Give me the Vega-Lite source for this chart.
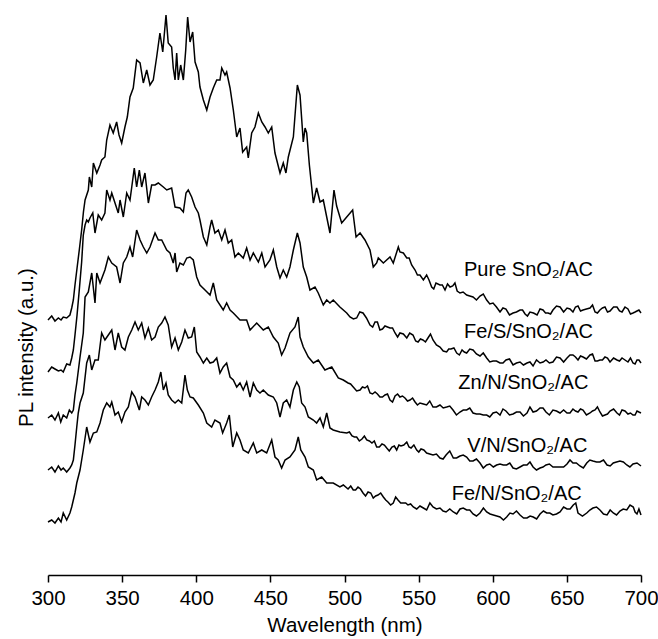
{
"$schema": "https://vega.github.io/schema/vega-lite/v6.json",
"width": 593, "height": 575,
"autosize": {"type": "none"},
"padding": {"left": 48, "top": 0, "right": 17, "bottom": 64},
"background": "white",
"config": {"view": {"stroke": null}, "font": "Liberation Sans"},
"layer": [
{
"data": {"values": [
{"s":"Pure","w":300,"i":255},{"s":"Pure","w":302.5,"i":259},{"s":"Pure","w":304.7,"i":254},{"s":"Pure","w":307,"i":257},{"s":"Pure","w":308.8,"i":255},{"s":"Pure","w":310.3,"i":258},{"s":"Pure","w":312.6,"i":257},{"s":"Pure","w":314.8,"i":260},{"s":"Pure","w":316,"i":267},{"s":"Pure","w":317.1,"i":275},{"s":"Pure","w":318.2,"i":290},{"s":"Pure","w":319.6,"i":307},{"s":"Pure","w":321.1,"i":325},{"s":"Pure","w":322.7,"i":345},{"s":"Pure","w":323.9,"i":363},{"s":"Pure","w":325,"i":375},{"s":"Pure","w":327.2,"i":385},{"s":"Pure","w":327.9,"i":398},{"s":"Pure","w":329.5,"i":388},{"s":"Pure","w":330.6,"i":412},{"s":"Pure","w":332.9,"i":402},{"s":"Pure","w":335.1,"i":410},{"s":"Pure","w":336.2,"i":415},{"s":"Pure","w":338.4,"i":418},{"s":"Pure","w":339.6,"i":435},{"s":"Pure","w":341.8,"i":450},{"s":"Pure","w":344,"i":442},{"s":"Pure","w":346.3,"i":453},{"s":"Pure","w":347.9,"i":440},{"s":"Pure","w":349.7,"i":432},{"s":"Pure","w":351.9,"i":448},{"s":"Pure","w":353.5,"i":458},{"s":"Pure","w":355.3,"i":478},{"s":"Pure","w":357.5,"i":487},{"s":"Pure","w":359.8,"i":515},{"s":"Pure","w":362.1,"i":512},{"s":"Pure","w":364.3,"i":492},{"s":"Pure","w":366.6,"i":505},{"s":"Pure","w":368.8,"i":490},{"s":"Pure","w":371,"i":495},{"s":"Pure","w":373.3,"i":518},{"s":"Pure","w":375.5,"i":542},{"s":"Pure","w":377.4,"i":523},{"s":"Pure","w":379.6,"i":560},{"s":"Pure","w":381.1,"i":532},{"s":"Pure","w":383.4,"i":528},{"s":"Pure","w":384.5,"i":507},{"s":"Pure","w":385.7,"i":495},{"s":"Pure","w":386.8,"i":522},{"s":"Pure","w":387.9,"i":495},{"s":"Pure","w":389.5,"i":510},{"s":"Pure","w":391.3,"i":495},{"s":"Pure","w":392.9,"i":525},{"s":"Pure","w":394.2,"i":558},{"s":"Pure","w":395.8,"i":533},{"s":"Pure","w":397.6,"i":543},{"s":"Pure","w":399.2,"i":513},{"s":"Pure","w":401.4,"i":503},{"s":"Pure","w":402.5,"i":488},{"s":"Pure","w":404.8,"i":475},{"s":"Pure","w":407.1,"i":465},{"s":"Pure","w":409.3,"i":478},{"s":"Pure","w":411.5,"i":487},{"s":"Pure","w":413.8,"i":495},{"s":"Pure","w":416,"i":495},{"s":"Pure","w":417.2,"i":507},{"s":"Pure","w":419.4,"i":500},{"s":"Pure","w":420.5,"i":503},{"s":"Pure","w":422.8,"i":487},{"s":"Pure","w":425,"i":465},{"s":"Pure","w":427.3,"i":438},{"s":"Pure","w":429.5,"i":447},{"s":"Pure","w":431.3,"i":423},{"s":"Pure","w":434,"i":428},{"s":"Pure","w":435.1,"i":417},{"s":"Pure","w":437.4,"i":442},{"s":"Pure","w":439.6,"i":448},{"s":"Pure","w":441.9,"i":462},{"s":"Pure","w":444.2,"i":453},{"s":"Pure","w":446.4,"i":448},{"s":"Pure","w":448.6,"i":442},{"s":"Pure","w":450.9,"i":448},{"s":"Pure","w":453.1,"i":422},{"s":"Pure","w":456.5,"i":402},{"s":"Pure","w":458.7,"i":412},{"s":"Pure","w":460.5,"i":402},{"s":"Pure","w":462.1,"i":418},{"s":"Pure","w":465.5,"i":438},{"s":"Pure","w":468.2,"i":490},{"s":"Pure","w":470,"i":480},{"s":"Pure","w":472.2,"i":433},{"s":"Pure","w":473.4,"i":447},{"s":"Pure","w":474.5,"i":442},{"s":"Pure","w":476.3,"i":410},{"s":"Pure","w":479,"i":372},{"s":"Pure","w":481.2,"i":387},{"s":"Pure","w":483.5,"i":373},{"s":"Pure","w":485.7,"i":375},{"s":"Pure","w":488,"i":358},{"s":"Pure","w":490.2,"i":342},{"s":"Pure","w":492.9,"i":385},{"s":"Pure","w":494.7,"i":369},{"s":"Pure","w":498.1,"i":352},{"s":"Pure","w":501.5,"i":358},{"s":"Pure","w":505.5,"i":365},{"s":"Pure","w":507.8,"i":338},{"s":"Pure","w":510.5,"i":342},{"s":"Pure","w":513.8,"i":335},{"s":"Pure","w":517.2,"i":325},{"s":"Pure","w":519.4,"i":308},{"s":"Pure","w":521.7,"i":312},{"s":"Pure","w":522.8,"i":317},{"s":"Pure","w":526.2,"i":312},{"s":"Pure","w":530.7,"i":318},{"s":"Pure","w":532.9,"i":312},{"s":"Pure","w":536.3,"i":328},{"s":"Pure","w":537.4,"i":323},{"s":"Pure","w":539.7,"i":322},{"s":"Pure","w":542,"i":317},{"s":"Pure","w":545.3,"i":310},{"s":"Pure","w":547.6,"i":305},{"s":"Pure","w":550.9,"i":300},{"s":"Pure","w":553.2,"i":295},{"s":"Pure","w":555.4,"i":300},{"s":"Pure","w":558.8,"i":288},{"s":"Pure","w":561.7,"i":292},{"s":"Pure","w":564.4,"i":290},{"s":"Pure","w":567.8,"i":285},{"s":"Pure","w":571.2,"i":288},{"s":"Pure","w":574.5,"i":292},{"s":"Pure","w":577.9,"i":282},{"s":"Pure","w":582.4,"i":280},{"s":"Pure","w":586.7,"i":278},{"s":"Pure","w":591.4,"i":279},{"s":"Pure","w":595.9,"i":275},{"s":"Pure","w":600.2,"i":272},{"s":"Pure","w":604.9,"i":263},{"s":"Pure","w":608.9,"i":266},{"s":"Pure","w":613.7,"i":262},{"s":"Pure","w":618.4,"i":265},{"s":"Pure","w":621.8,"i":261},{"s":"Pure","w":625.1,"i":263},{"s":"Pure","w":629.9,"i":260},{"s":"Pure","w":633.9,"i":265},{"s":"Pure","w":637.3,"i":262},{"s":"Pure","w":640.6,"i":265},{"s":"Pure","w":645.4,"i":268},{"s":"Pure","w":650.1,"i":267},{"s":"Pure","w":654.1,"i":263},{"s":"Pure","w":657.5,"i":269},{"s":"Pure","w":660.9,"i":265},{"s":"Pure","w":665.6,"i":267},{"s":"Pure","w":669,"i":263},{"s":"Pure","w":672.3,"i":265},{"s":"Pure","w":675.7,"i":268},{"s":"Pure","w":679.1,"i":264},{"s":"Pure","w":683.8,"i":268},{"s":"Pure","w":687.2,"i":263},{"s":"Pure","w":691.2,"i":266},{"s":"Pure","w":694.6,"i":262},{"s":"Pure","w":697.3,"i":264},{"s":"Pure","w":700,"i":262},
{"s":"Pure","w":543.6,"i":317},{"s":"Pure","w":549.2,"i":300},{"s":"Pure","w":557,"i":295},{"s":"Pure","w":560.2,"i":286},{"s":"Pure","w":566,"i":290},{"s":"Pure","w":569.5,"i":291},{"s":"Pure","w":573,"i":289},{"s":"Pure","w":576,"i":284},{"s":"Pure","w":580,"i":283},{"s":"Pure","w":584.5,"i":279},{"s":"Pure","w":589,"i":275},{"s":"Pure","w":593.6,"i":281},{"s":"Pure","w":598,"i":271},{"s":"Pure","w":602.5,"i":268},{"s":"Pure","w":606.9,"i":267},{"s":"Pure","w":611.3,"i":260},{"s":"Pure","w":616,"i":263},{"s":"Pure","w":620.1,"i":265},{"s":"Pure","w":623.4,"i":259},{"s":"Pure","w":627.5,"i":262},{"s":"Pure","w":631.9,"i":266},{"s":"Pure","w":635.6,"i":262},{"s":"Pure","w":639,"i":261},{"s":"Pure","w":643,"i":269},{"s":"Pure","w":647.8,"i":263},{"s":"Pure","w":652.1,"i":266},{"s":"Pure","w":655.8,"i":268},{"s":"Pure","w":659.2,"i":264},{"s":"Pure","w":663.2,"i":266},{"s":"Pure","w":667.3,"i":270},{"s":"Pure","w":670.6,"i":262},{"s":"Pure","w":674,"i":267},{"s":"Pure","w":677.4,"i":263},{"s":"Pure","w":681.5,"i":268},{"s":"Pure","w":685.5,"i":264},{"s":"Pure","w":689.2,"i":268},{"s":"Pure","w":692.9,"i":261},{"s":"Pure","w":696,"i":263},{"s":"Pure","w":698.6,"i":265},
{"s":"FeS","w":300,"i":203},{"s":"FeS","w":302.5,"i":208},{"s":"FeS","w":304.7,"i":206},{"s":"FeS","w":307,"i":204},{"s":"FeS","w":308.8,"i":205},{"s":"FeS","w":310.3,"i":203},{"s":"FeS","w":312.6,"i":211},{"s":"FeS","w":314.8,"i":210},{"s":"FeS","w":316,"i":217},{"s":"FeS","w":317.1,"i":225},{"s":"FeS","w":318.2,"i":240},{"s":"FeS","w":319.6,"i":260},{"s":"FeS","w":321.1,"i":285},{"s":"FeS","w":322.7,"i":313},{"s":"FeS","w":323.8,"i":340},{"s":"FeS","w":325,"i":350},{"s":"FeS","w":326.1,"i":355},{"s":"FeS","w":327.2,"i":353},{"s":"FeS","w":328.3,"i":357},{"s":"FeS","w":330.2,"i":362},{"s":"FeS","w":331.7,"i":342},{"s":"FeS","w":333.9,"i":360},{"s":"FeS","w":336.2,"i":355},{"s":"FeS","w":338.4,"i":362},{"s":"FeS","w":339.6,"i":385},{"s":"FeS","w":341.8,"i":375},{"s":"FeS","w":343,"i":382},{"s":"FeS","w":345.2,"i":372},{"s":"FeS","w":347.4,"i":362},{"s":"FeS","w":348.6,"i":375},{"s":"FeS","w":350.8,"i":358},{"s":"FeS","w":353.1,"i":382},{"s":"FeS","w":355.3,"i":375},{"s":"FeS","w":356.5,"i":388},{"s":"FeS","w":358.2,"i":407},{"s":"FeS","w":359.8,"i":388},{"s":"FeS","w":361.6,"i":405},{"s":"FeS","w":363.2,"i":388},{"s":"FeS","w":365.4,"i":402},{"s":"FeS","w":367.7,"i":372},{"s":"FeS","w":369.9,"i":390},{"s":"FeS","w":372.2,"i":390},{"s":"FeS","w":374.4,"i":392},{"s":"FeS","w":377.8,"i":388},{"s":"FeS","w":380.1,"i":385},{"s":"FeS","w":383.4,"i":387},{"s":"FeS","w":385.7,"i":368},{"s":"FeS","w":389,"i":367},{"s":"FeS","w":391.3,"i":363},{"s":"FeS","w":393.1,"i":382},{"s":"FeS","w":394.6,"i":385},{"s":"FeS","w":396.9,"i":378},{"s":"FeS","w":399.2,"i":368},{"s":"FeS","w":401.4,"i":362},{"s":"FeS","w":402.5,"i":355},{"s":"FeS","w":404.8,"i":338},{"s":"FeS","w":407.1,"i":330},{"s":"FeS","w":409.3,"i":348},{"s":"FeS","w":410.4,"i":355},{"s":"FeS","w":412.6,"i":342},{"s":"FeS","w":414.9,"i":345},{"s":"FeS","w":417.2,"i":335},{"s":"FeS","w":419.4,"i":345},{"s":"FeS","w":421.6,"i":332},{"s":"FeS","w":423.9,"i":335},{"s":"FeS","w":426.1,"i":318},{"s":"FeS","w":428.4,"i":322},{"s":"FeS","w":431.7,"i":317},{"s":"FeS","w":434,"i":327},{"s":"FeS","w":436.3,"i":315},{"s":"FeS","w":438.5,"i":322},{"s":"FeS","w":441.9,"i":313},{"s":"FeS","w":444.2,"i":322},{"s":"FeS","w":446.4,"i":308},{"s":"FeS","w":449.7,"i":315},{"s":"FeS","w":452,"i":325},{"s":"FeS","w":454.3,"i":308},{"s":"FeS","w":456.5,"i":297},{"s":"FeS","w":458.7,"i":305},{"s":"FeS","w":461,"i":298},{"s":"FeS","w":463.2,"i":308},{"s":"FeS","w":465.5,"i":325},{"s":"FeS","w":468.2,"i":342},{"s":"FeS","w":470,"i":332},{"s":"FeS","w":472.2,"i":308},{"s":"FeS","w":474.5,"i":298},{"s":"FeS","w":476.7,"i":285},{"s":"FeS","w":480.1,"i":288},{"s":"FeS","w":482.3,"i":282},{"s":"FeS","w":485.7,"i":270},{"s":"FeS","w":488,"i":275},{"s":"FeS","w":490.2,"i":272},{"s":"FeS","w":492.4,"i":275},{"s":"FeS","w":496.9,"i":268},{"s":"FeS","w":501.5,"i":262},{"s":"FeS","w":503.7,"i":258},{"s":"FeS","w":508.2,"i":257},{"s":"FeS","w":512.5,"i":262},{"s":"FeS","w":517.2,"i":250},{"s":"FeS","w":520.6,"i":253},{"s":"FeS","w":523.9,"i":245},{"s":"FeS","w":527.3,"i":249},{"s":"FeS","w":530.7,"i":247},{"s":"FeS","w":534.1,"i":242},{"s":"FeS","w":537.4,"i":242},{"s":"FeS","w":542,"i":237},{"s":"FeS","w":546.2,"i":240},{"s":"FeS","w":549.6,"i":233},{"s":"FeS","w":552.9,"i":235},{"s":"FeS","w":556.3,"i":237},{"s":"FeS","w":559.7,"i":235},{"s":"FeS","w":564.4,"i":228},{"s":"FeS","w":568.9,"i":223},{"s":"FeS","w":571.8,"i":226},{"s":"FeS","w":575.7,"i":222},{"s":"FeS","w":579.3,"i":225},{"s":"FeS","w":582.4,"i":222},{"s":"FeS","w":586.7,"i":225},{"s":"FeS","w":591.4,"i":219},{"s":"FeS","w":595.9,"i":217},{"s":"FeS","w":600.2,"i":214},{"s":"FeS","w":604.9,"i":212},{"s":"FeS","w":608.9,"i":215},{"s":"FeS","w":613.7,"i":210},{"s":"FeS","w":618.4,"i":213},{"s":"FeS","w":623.1,"i":212},{"s":"FeS","w":627.2,"i":209},{"s":"FeS","w":631.9,"i":212},{"s":"FeS","w":635.9,"i":215},{"s":"FeS","w":640.6,"i":213},{"s":"FeS","w":645.4,"i":217},{"s":"FeS","w":650.1,"i":217},{"s":"FeS","w":654.1,"i":220},{"s":"FeS","w":657.5,"i":215},{"s":"FeS","w":660.9,"i":218},{"s":"FeS","w":665.6,"i":220},{"s":"FeS","w":669,"i":214},{"s":"FeS","w":672.3,"i":215},{"s":"FeS","w":675.7,"i":218},{"s":"FeS","w":679.1,"i":213},{"s":"FeS","w":683.8,"i":215},{"s":"FeS","w":687.2,"i":217},{"s":"FeS","w":691.2,"i":213},{"s":"FeS","w":694.6,"i":212},{"s":"FeS","w":697.3,"i":215},{"s":"FeS","w":700,"i":212},
{"s":"FeS","w":506,"i":256},{"s":"FeS","w":510.3,"i":263},{"s":"FeS","w":514.8,"i":257},{"s":"FeS","w":519,"i":248},{"s":"FeS","w":522.2,"i":253},{"s":"FeS","w":525.6,"i":246},{"s":"FeS","w":529,"i":248},{"s":"FeS","w":532.4,"i":247},{"s":"FeS","w":535.8,"i":238},{"s":"FeS","w":539.7,"i":241},{"s":"FeS","w":544,"i":242},{"s":"FeS","w":548,"i":234},{"s":"FeS","w":551.2,"i":236},{"s":"FeS","w":554.6,"i":233},{"s":"FeS","w":558,"i":241},{"s":"FeS","w":562,"i":230},{"s":"FeS","w":566.6,"i":224},{"s":"FeS","w":570.3,"i":226},{"s":"FeS","w":573.8,"i":227},{"s":"FeS","w":577.5,"i":220},{"s":"FeS","w":580.8,"i":223},{"s":"FeS","w":584.5,"i":226},{"s":"FeS","w":589,"i":221},{"s":"FeS","w":593.6,"i":222},{"s":"FeS","w":598,"i":213},{"s":"FeS","w":602.5,"i":214},{"s":"FeS","w":606.9,"i":212},{"s":"FeS","w":611.3,"i":216},{"s":"FeS","w":616,"i":212},{"s":"FeS","w":620.7,"i":210},{"s":"FeS","w":625.1,"i":213},{"s":"FeS","w":629.5,"i":215},{"s":"FeS","w":634,"i":213},{"s":"FeS","w":638.2,"i":212},{"s":"FeS","w":643,"i":218},{"s":"FeS","w":647.8,"i":213},{"s":"FeS","w":652.1,"i":220},{"s":"FeS","w":655.8,"i":218},{"s":"FeS","w":659.2,"i":219},{"s":"FeS","w":663.2,"i":216},{"s":"FeS","w":667.3,"i":221},{"s":"FeS","w":670.6,"i":214},{"s":"FeS","w":674,"i":215},{"s":"FeS","w":677.4,"i":217},{"s":"FeS","w":681.5,"i":217},{"s":"FeS","w":685.5,"i":214},{"s":"FeS","w":689.2,"i":215},{"s":"FeS","w":692.9,"i":217},{"s":"FeS","w":696,"i":211},{"s":"FeS","w":698.6,"i":215},
{"s":"ZnN","w":300,"i":157},{"s":"ZnN","w":302.5,"i":160},{"s":"ZnN","w":304.7,"i":155},{"s":"ZnN","w":307,"i":162},{"s":"ZnN","w":308.6,"i":153},{"s":"ZnN","w":310.3,"i":160},{"s":"ZnN","w":312.6,"i":157},{"s":"ZnN","w":314.4,"i":165},{"s":"ZnN","w":316,"i":162},{"s":"ZnN","w":317.1,"i":165},{"s":"ZnN","w":318.2,"i":180},{"s":"ZnN","w":319.4,"i":192},{"s":"ZnN","w":321.6,"i":218},{"s":"ZnN","w":323.8,"i":242},{"s":"ZnN","w":325,"i":278},{"s":"ZnN","w":327.2,"i":283},{"s":"ZnN","w":329.5,"i":302},{"s":"ZnN","w":331.7,"i":272},{"s":"ZnN","w":332.9,"i":302},{"s":"ZnN","w":335.1,"i":292},{"s":"ZnN","w":338.4,"i":305},{"s":"ZnN","w":340.7,"i":318},{"s":"ZnN","w":343,"i":312},{"s":"ZnN","w":346.3,"i":308},{"s":"ZnN","w":348.6,"i":292},{"s":"ZnN","w":350.8,"i":312},{"s":"ZnN","w":353.1,"i":318},{"s":"ZnN","w":355.3,"i":328},{"s":"ZnN","w":357.1,"i":318},{"s":"ZnN","w":359.8,"i":345},{"s":"ZnN","w":362.1,"i":335},{"s":"ZnN","w":364.3,"i":328},{"s":"ZnN","w":366.6,"i":322},{"s":"ZnN","w":368.8,"i":328},{"s":"ZnN","w":372.2,"i":342},{"s":"ZnN","w":374.4,"i":335},{"s":"ZnN","w":376.7,"i":335},{"s":"ZnN","w":380.1,"i":325},{"s":"ZnN","w":382.3,"i":322},{"s":"ZnN","w":384.5,"i":312},{"s":"ZnN","w":385.7,"i":322},{"s":"ZnN","w":386.8,"i":303},{"s":"ZnN","w":389,"i":312},{"s":"ZnN","w":391.3,"i":310},{"s":"ZnN","w":393.6,"i":317},{"s":"ZnN","w":395.8,"i":318},{"s":"ZnN","w":398,"i":315},{"s":"ZnN","w":400.3,"i":298},{"s":"ZnN","w":402.5,"i":290},{"s":"ZnN","w":405.9,"i":285},{"s":"ZnN","w":409.3,"i":280},{"s":"ZnN","w":411.5,"i":292},{"s":"ZnN","w":413.8,"i":275},{"s":"ZnN","w":418.2,"i":265},{"s":"ZnN","w":420.5,"i":272},{"s":"ZnN","w":422.8,"i":265},{"s":"ZnN","w":425,"i":262},{"s":"ZnN","w":429.5,"i":255},{"s":"ZnN","w":434,"i":255},{"s":"ZnN","w":436.3,"i":245},{"s":"ZnN","w":440.8,"i":252},{"s":"ZnN","w":445.2,"i":245},{"s":"ZnN","w":448.6,"i":248},{"s":"ZnN","w":452,"i":238},{"s":"ZnN","w":455.3,"i":232},{"s":"ZnN","w":457.6,"i":220},{"s":"ZnN","w":459.9,"i":227},{"s":"ZnN","w":463.2,"i":242},{"s":"ZnN","w":466.6,"i":248},{"s":"ZnN","w":468.8,"i":258},{"s":"ZnN","w":470,"i":238},{"s":"ZnN","w":472.2,"i":228},{"s":"ZnN","w":475.6,"i":218},{"s":"ZnN","w":479,"i":212},{"s":"ZnN","w":482.3,"i":215},{"s":"ZnN","w":486.8,"i":205},{"s":"ZnN","w":491.4,"i":208},{"s":"ZnN","w":495.8,"i":197},{"s":"ZnN","w":499.2,"i":195},{"s":"ZnN","w":502.4,"i":192},{"s":"ZnN","w":505.9,"i":188},{"s":"ZnN","w":510.5,"i":185},{"s":"ZnN","w":513.8,"i":187},{"s":"ZnN","w":517.2,"i":182},{"s":"ZnN","w":520.6,"i":183},{"s":"ZnN","w":523.9,"i":178},{"s":"ZnN","w":527.3,"i":180},{"s":"ZnN","w":530.7,"i":175},{"s":"ZnN","w":534.1,"i":179},{"s":"ZnN","w":537.4,"i":178},{"s":"ZnN","w":540.8,"i":177},{"s":"ZnN","w":544.2,"i":175},{"s":"ZnN","w":547.6,"i":173},{"s":"ZnN","w":550.9,"i":172},{"s":"ZnN","w":555.4,"i":170},{"s":"ZnN","w":559.7,"i":168},{"s":"ZnN","w":564.4,"i":170},{"s":"ZnN","w":568.9,"i":168},{"s":"ZnN","w":573.2,"i":165},{"s":"ZnN","w":577.9,"i":163},{"s":"ZnN","w":582.4,"i":165},{"s":"ZnN","w":586.7,"i":162},{"s":"ZnN","w":591.4,"i":161},{"s":"ZnN","w":595.9,"i":160},{"s":"ZnN","w":600.2,"i":162},{"s":"ZnN","w":604.9,"i":160},{"s":"ZnN","w":608.9,"i":164},{"s":"ZnN","w":613.7,"i":161},{"s":"ZnN","w":618.4,"i":163},{"s":"ZnN","w":623.1,"i":162},{"s":"ZnN","w":627.2,"i":163},{"s":"ZnN","w":631.9,"i":167},{"s":"ZnN","w":635.9,"i":163},{"s":"ZnN","w":640.6,"i":165},{"s":"ZnN","w":645.4,"i":162},{"s":"ZnN","w":650.1,"i":162},{"s":"ZnN","w":654.1,"i":166},{"s":"ZnN","w":657.5,"i":163},{"s":"ZnN","w":660.9,"i":165},{"s":"ZnN","w":665.6,"i":162},{"s":"ZnN","w":669,"i":165},{"s":"ZnN","w":672.3,"i":163},{"s":"ZnN","w":675.7,"i":160},{"s":"ZnN","w":679.1,"i":164},{"s":"ZnN","w":683.8,"i":162},{"s":"ZnN","w":687.2,"i":165},{"s":"ZnN","w":691.2,"i":161},{"s":"ZnN","w":694.6,"i":160},{"s":"ZnN","w":697.3,"i":164},{"s":"ZnN","w":700,"i":162},
{"s":"ZnN","w":504.1,"i":191},{"s":"ZnN","w":508.2,"i":184},{"s":"ZnN","w":512.1,"i":188},{"s":"ZnN","w":515.5,"i":189},{"s":"ZnN","w":518.9,"i":181},{"s":"ZnN","w":522.2,"i":181},{"s":"ZnN","w":525.6,"i":178},{"s":"ZnN","w":529,"i":181},{"s":"ZnN","w":532.4,"i":173},{"s":"ZnN","w":535.8,"i":181},{"s":"ZnN","w":539.1,"i":179},{"s":"ZnN","w":542.5,"i":174},{"s":"ZnN","w":545.9,"i":177},{"s":"ZnN","w":549.2,"i":170},{"s":"ZnN","w":553.2,"i":171},{"s":"ZnN","w":557.5,"i":174},{"s":"ZnN","w":562,"i":168},{"s":"ZnN","w":566.6,"i":167},{"s":"ZnN","w":571,"i":169},{"s":"ZnN","w":575.5,"i":160},{"s":"ZnN","w":580.1,"i":165},{"s":"ZnN","w":584.5,"i":167},{"s":"ZnN","w":589,"i":161},{"s":"ZnN","w":593.6,"i":160},{"s":"ZnN","w":598,"i":158},{"s":"ZnN","w":602.5,"i":163},{"s":"ZnN","w":606.9,"i":166},{"s":"ZnN","w":611.3,"i":160},{"s":"ZnN","w":616,"i":163},{"s":"ZnN","w":620.7,"i":159},{"s":"ZnN","w":625.1,"i":168},{"s":"ZnN","w":629.5,"i":164},{"s":"ZnN","w":633.9,"i":167},{"s":"ZnN","w":638.2,"i":160},{"s":"ZnN","w":643,"i":164},{"s":"ZnN","w":647.8,"i":165},{"s":"ZnN","w":652.1,"i":162},{"s":"ZnN","w":655.8,"i":164},{"s":"ZnN","w":659.2,"i":166},{"s":"ZnN","w":663.2,"i":160},{"s":"ZnN","w":667.3,"i":164},{"s":"ZnN","w":670.6,"i":168},{"s":"ZnN","w":674,"i":159},{"s":"ZnN","w":677.4,"i":161},{"s":"ZnN","w":681.5,"i":166},{"s":"ZnN","w":685.5,"i":160},{"s":"ZnN","w":689.2,"i":164},{"s":"ZnN","w":692.9,"i":162},{"s":"ZnN","w":696,"i":160},{"s":"ZnN","w":698.6,"i":163},
{"s":"VN","w":300,"i":105},{"s":"VN","w":302.5,"i":108},{"s":"VN","w":304.7,"i":103},{"s":"VN","w":307,"i":109},{"s":"VN","w":308.8,"i":105},{"s":"VN","w":310.3,"i":107},{"s":"VN","w":312.6,"i":103},{"s":"VN","w":314.8,"i":107},{"s":"VN","w":316,"i":110},{"s":"VN","w":317.1,"i":115},{"s":"VN","w":318.2,"i":130},{"s":"VN","w":319.4,"i":148},{"s":"VN","w":320.4,"i":162},{"s":"VN","w":321.6,"i":172},{"s":"VN","w":323.8,"i":182},{"s":"VN","w":326.1,"i":212},{"s":"VN","w":327.9,"i":220},{"s":"VN","w":329.5,"i":205},{"s":"VN","w":331.7,"i":215},{"s":"VN","w":333.9,"i":215},{"s":"VN","w":336.2,"i":242},{"s":"VN","w":338.4,"i":235},{"s":"VN","w":340.7,"i":240},{"s":"VN","w":343,"i":245},{"s":"VN","w":345.2,"i":225},{"s":"VN","w":347.4,"i":242},{"s":"VN","w":349.7,"i":228},{"s":"VN","w":351.9,"i":225},{"s":"VN","w":354.2,"i":238},{"s":"VN","w":356.5,"i":245},{"s":"VN","w":358.7,"i":253},{"s":"VN","w":360.9,"i":245},{"s":"VN","w":363.2,"i":252},{"s":"VN","w":365.4,"i":237},{"s":"VN","w":367.7,"i":247},{"s":"VN","w":369.9,"i":235},{"s":"VN","w":372.2,"i":238},{"s":"VN","w":374.4,"i":248},{"s":"VN","w":376.7,"i":252},{"s":"VN","w":378.9,"i":258},{"s":"VN","w":381.1,"i":250},{"s":"VN","w":383.4,"i":228},{"s":"VN","w":385.7,"i":237},{"s":"VN","w":387.9,"i":225},{"s":"VN","w":390.2,"i":233},{"s":"VN","w":392.4,"i":245},{"s":"VN","w":394.6,"i":237},{"s":"VN","w":396.9,"i":238},{"s":"VN","w":398.7,"i":248},{"s":"VN","w":400.3,"i":223},{"s":"VN","w":402.5,"i":218},{"s":"VN","w":404.8,"i":212},{"s":"VN","w":407.1,"i":217},{"s":"VN","w":409.3,"i":212},{"s":"VN","w":411.5,"i":213},{"s":"VN","w":413.8,"i":217},{"s":"VN","w":416,"i":202},{"s":"VN","w":418.2,"i":208},{"s":"VN","w":420.5,"i":212},{"s":"VN","w":422.8,"i":198},{"s":"VN","w":425,"i":195},{"s":"VN","w":427.3,"i":188},{"s":"VN","w":429.5,"i":192},{"s":"VN","w":431.7,"i":185},{"s":"VN","w":434,"i":193},{"s":"VN","w":436.3,"i":178},{"s":"VN","w":438.5,"i":192},{"s":"VN","w":440.8,"i":185},{"s":"VN","w":443,"i":182},{"s":"VN","w":445.2,"i":185},{"s":"VN","w":448.6,"i":180},{"s":"VN","w":452,"i":178},{"s":"VN","w":454.3,"i":172},{"s":"VN","w":456.5,"i":158},{"s":"VN","w":458.7,"i":172},{"s":"VN","w":461,"i":175},{"s":"VN","w":463.2,"i":168},{"s":"VN","w":465.5,"i":185},{"s":"VN","w":467.8,"i":193},{"s":"VN","w":469.5,"i":188},{"s":"VN","w":471.1,"i":172},{"s":"VN","w":473.4,"i":168},{"s":"VN","w":475.6,"i":158},{"s":"VN","w":479,"i":155},{"s":"VN","w":481.2,"i":152},{"s":"VN","w":483.5,"i":157},{"s":"VN","w":485.7,"i":148},{"s":"VN","w":488,"i":162},{"s":"VN","w":490.2,"i":147},{"s":"VN","w":492.4,"i":145},{"s":"VN","w":496.9,"i":143},{"s":"VN","w":501.5,"i":142},{"s":"VN","w":505.1,"i":139},{"s":"VN","w":508.2,"i":138},{"s":"VN","w":511.8,"i":136},{"s":"VN","w":515,"i":135},{"s":"VN","w":518.5,"i":132},{"s":"VN","w":521.7,"i":128},{"s":"VN","w":525.3,"i":131},{"s":"VN","w":528.5,"i":127},{"s":"VN","w":532,"i":128},{"s":"VN","w":535.2,"i":125},{"s":"VN","w":538.1,"i":129},{"s":"VN","w":542,"i":133},{"s":"VN","w":544.9,"i":127},{"s":"VN","w":548.7,"i":125},{"s":"VN","w":551.6,"i":126},{"s":"VN","w":555.4,"i":122},{"s":"VN","w":559.7,"i":120},{"s":"VN","w":564.4,"i":117},{"s":"VN","w":568.5,"i":120},{"s":"VN","w":573.4,"i":117},{"s":"VN","w":577.9,"i":119},{"s":"VN","w":582.4,"i":118},{"s":"VN","w":586.7,"i":114},{"s":"VN","w":591.4,"i":112},{"s":"VN","w":595.9,"i":110},{"s":"VN","w":600.4,"i":108},{"s":"VN","w":604.9,"i":111},{"s":"VN","w":609.4,"i":110},{"s":"VN","w":613.7,"i":107},{"s":"VN","w":618.4,"i":108},{"s":"VN","w":623.1,"i":110},{"s":"VN","w":627.2,"i":108},{"s":"VN","w":631.9,"i":107},{"s":"VN","w":635.9,"i":110},{"s":"VN","w":640.6,"i":108},{"s":"VN","w":645.4,"i":108},{"s":"VN","w":650.1,"i":111},{"s":"VN","w":654.1,"i":112},{"s":"VN","w":658.8,"i":109},{"s":"VN","w":663.4,"i":112},{"s":"VN","w":667.6,"i":114},{"s":"VN","w":672.3,"i":113},{"s":"VN","w":677.1,"i":110},{"s":"VN","w":681.3,"i":112},{"s":"VN","w":685.8,"i":114},{"s":"VN","w":690.4,"i":110},{"s":"VN","w":694.6,"i":111},{"s":"VN","w":700,"i":109},
{"s":"VN","w":503.3,"i":143},{"s":"VN","w":506.7,"i":138},{"s":"VN","w":510,"i":134},{"s":"VN","w":513.4,"i":139},{"s":"VN","w":516.8,"i":134},{"s":"VN","w":520.1,"i":134},{"s":"VN","w":523.5,"i":128},{"s":"VN","w":526.9,"i":130},{"s":"VN","w":530.2,"i":124},{"s":"VN","w":533.6,"i":129},{"s":"VN","w":536.7,"i":130},{"s":"VN","w":540,"i":130},{"s":"VN","w":543.5,"i":128},{"s":"VN","w":546.8,"i":130},{"s":"VN","w":550.1,"i":123},{"s":"VN","w":553.5,"i":125},{"s":"VN","w":557.5,"i":121},{"s":"VN","w":562,"i":121},{"s":"VN","w":566.5,"i":116},{"s":"VN","w":571,"i":124},{"s":"VN","w":575.6,"i":117},{"s":"VN","w":580.1,"i":120},{"s":"VN","w":584.5,"i":114},{"s":"VN","w":589,"i":116},{"s":"VN","w":593.6,"i":107},{"s":"VN","w":598,"i":111},{"s":"VN","w":602.6,"i":110},{"s":"VN","w":607.1,"i":110},{"s":"VN","w":611.5,"i":112},{"s":"VN","w":616,"i":106},{"s":"VN","w":620.7,"i":110},{"s":"VN","w":625.1,"i":113},{"s":"VN","w":629.5,"i":105},{"s":"VN","w":633.9,"i":108},{"s":"VN","w":638.2,"i":111},{"s":"VN","w":643,"i":108},{"s":"VN","w":647.8,"i":108},{"s":"VN","w":652.1,"i":115},{"s":"VN","w":656.4,"i":112},{"s":"VN","w":661.1,"i":107},{"s":"VN","w":665.5,"i":115},{"s":"VN","w":670,"i":113},{"s":"VN","w":674.7,"i":115},{"s":"VN","w":679.2,"i":109},{"s":"VN","w":683.5,"i":113},{"s":"VN","w":688.1,"i":113},{"s":"VN","w":692.5,"i":108},{"s":"VN","w":697.3,"i":112},
{"s":"FeN","w":300,"i":53},{"s":"FeN","w":302.5,"i":55},{"s":"FeN","w":304.7,"i":52},{"s":"FeN","w":307,"i":57},{"s":"FeN","w":308.8,"i":53},{"s":"FeN","w":310.3,"i":62},{"s":"FeN","w":312.6,"i":55},{"s":"FeN","w":314.8,"i":62},{"s":"FeN","w":316,"i":68},{"s":"FeN","w":318.2,"i":82},{"s":"FeN","w":319.4,"i":92},{"s":"FeN","w":321.6,"i":105},{"s":"FeN","w":323.8,"i":125},{"s":"FeN","w":326.1,"i":148},{"s":"FeN","w":328.3,"i":133},{"s":"FeN","w":330.6,"i":142},{"s":"FeN","w":332.9,"i":143},{"s":"FeN","w":335.1,"i":152},{"s":"FeN","w":337.3,"i":165},{"s":"FeN","w":339.6,"i":172},{"s":"FeN","w":341.8,"i":168},{"s":"FeN","w":343,"i":173},{"s":"FeN","w":345.2,"i":160},{"s":"FeN","w":347.4,"i":163},{"s":"FeN","w":349.7,"i":153},{"s":"FeN","w":351.9,"i":163},{"s":"FeN","w":354.2,"i":168},{"s":"FeN","w":356.5,"i":183},{"s":"FeN","w":358.7,"i":178},{"s":"FeN","w":361.6,"i":165},{"s":"FeN","w":363.2,"i":178},{"s":"FeN","w":365.4,"i":175},{"s":"FeN","w":367.7,"i":170},{"s":"FeN","w":369.9,"i":178},{"s":"FeN","w":372.2,"i":185},{"s":"FeN","w":374.4,"i":193},{"s":"FeN","w":376.1,"i":203},{"s":"FeN","w":377.8,"i":185},{"s":"FeN","w":379.6,"i":192},{"s":"FeN","w":381.1,"i":180},{"s":"FeN","w":383.4,"i":175},{"s":"FeN","w":385.7,"i":172},{"s":"FeN","w":387.9,"i":175},{"s":"FeN","w":390.2,"i":172},{"s":"FeN","w":392.4,"i":200},{"s":"FeN","w":394,"i":185},{"s":"FeN","w":395.8,"i":178},{"s":"FeN","w":398,"i":177},{"s":"FeN","w":401.4,"i":170},{"s":"FeN","w":404.8,"i":162},{"s":"FeN","w":407.1,"i":152},{"s":"FeN","w":410.4,"i":148},{"s":"FeN","w":412.6,"i":155},{"s":"FeN","w":416,"i":152},{"s":"FeN","w":417.8,"i":142},{"s":"FeN","w":420.5,"i":152},{"s":"FeN","w":422.3,"i":160},{"s":"FeN","w":424.6,"i":128},{"s":"FeN","w":427.3,"i":142},{"s":"FeN","w":429.5,"i":135},{"s":"FeN","w":431.7,"i":125},{"s":"FeN","w":435.1,"i":122},{"s":"FeN","w":438.5,"i":132},{"s":"FeN","w":440.8,"i":122},{"s":"FeN","w":444.2,"i":125},{"s":"FeN","w":447.5,"i":122},{"s":"FeN","w":450.9,"i":135},{"s":"FeN","w":453.1,"i":118},{"s":"FeN","w":455.3,"i":115},{"s":"FeN","w":457.6,"i":107},{"s":"FeN","w":459.9,"i":115},{"s":"FeN","w":463.2,"i":118},{"s":"FeN","w":466.6,"i":125},{"s":"FeN","w":468.8,"i":138},{"s":"FeN","w":470.5,"i":125},{"s":"FeN","w":473.4,"i":118},{"s":"FeN","w":475.6,"i":108},{"s":"FeN","w":479,"i":105},{"s":"FeN","w":481.2,"i":95},{"s":"FeN","w":484.6,"i":98},{"s":"FeN","w":488,"i":92},{"s":"FeN","w":492.4,"i":92},{"s":"FeN","w":496.9,"i":88},{"s":"FeN","w":499.2,"i":90},{"s":"FeN","w":502.4,"i":86},{"s":"FeN","w":505.9,"i":85},{"s":"FeN","w":509.1,"i":88},{"s":"FeN","w":512.5,"i":82},{"s":"FeN","w":515.9,"i":83},{"s":"FeN","w":519.4,"i":77},{"s":"FeN","w":522.6,"i":80},{"s":"FeN","w":526.2,"i":78},{"s":"FeN","w":529.3,"i":73},{"s":"FeN","w":532.9,"i":72},{"s":"FeN","w":536.1,"i":75},{"s":"FeN","w":539.7,"i":72},{"s":"FeN","w":542.8,"i":70},{"s":"FeN","w":546.4,"i":68},{"s":"FeN","w":550.9,"i":69},{"s":"FeN","w":555.4,"i":65},{"s":"FeN","w":559.7,"i":68},{"s":"FeN","w":564.4,"i":67},{"s":"FeN","w":568.5,"i":63},{"s":"FeN","w":573.4,"i":63},{"s":"FeN","w":577.9,"i":66},{"s":"FeN","w":582.4,"i":65},{"s":"FeN","w":586.7,"i":61},{"s":"FeN","w":591.4,"i":62},{"s":"FeN","w":595.9,"i":63},{"s":"FeN","w":600.4,"i":60},{"s":"FeN","w":604.9,"i":58},{"s":"FeN","w":609.4,"i":58},{"s":"FeN","w":613.7,"i":61},{"s":"FeN","w":618.4,"i":60},{"s":"FeN","w":623.1,"i":57},{"s":"FeN","w":627.3,"i":58},{"s":"FeN","w":631.9,"i":61},{"s":"FeN","w":636.4,"i":62},{"s":"FeN","w":640.6,"i":60},{"s":"FeN","w":645.4,"i":63},{"s":"FeN","w":650.1,"i":66},{"s":"FeN","w":654.3,"i":70},{"s":"FeN","w":657.5,"i":62},{"s":"FeN","w":663.4,"i":62},{"s":"FeN","w":667.6,"i":67},{"s":"FeN","w":672.3,"i":65},{"s":"FeN","w":677.1,"i":60},{"s":"FeN","w":681.3,"i":62},{"s":"FeN","w":685.8,"i":64},{"s":"FeN","w":690.4,"i":65},{"s":"FeN","w":694.8,"i":68},{"s":"FeN","w":697.3,"i":61},{"s":"FeN","w":700,"i":60},
{"s":"FeN","w":504.2,"i":89},{"s":"FeN","w":507.5,"i":85},{"s":"FeN","w":510.8,"i":86},{"s":"FeN","w":514.2,"i":79},{"s":"FeN","w":517.7,"i":82},{"s":"FeN","w":521,"i":79},{"s":"FeN","w":524.4,"i":82},{"s":"FeN","w":527.8,"i":75},{"s":"FeN","w":531.1,"i":70},{"s":"FeN","w":534.5,"i":78},{"s":"FeN","w":537.9,"i":72},{"s":"FeN","w":541.3,"i":72},{"s":"FeN","w":544.6,"i":71},{"s":"FeN","w":548.7,"i":66},{"s":"FeN","w":553.2,"i":67},{"s":"FeN","w":557.6,"i":72},{"s":"FeN","w":562,"i":66},{"s":"FeN","w":566.5,"i":64},{"s":"FeN","w":571,"i":66},{"s":"FeN","w":575.7,"i":61},{"s":"FeN","w":580.1,"i":67},{"s":"FeN","w":584.5,"i":65},{"s":"FeN","w":589,"i":59},{"s":"FeN","w":593.7,"i":67},{"s":"FeN","w":598.2,"i":61},{"s":"FeN","w":602.7,"i":59},{"s":"FeN","w":607.2,"i":55},{"s":"FeN","w":611.6,"i":62},{"s":"FeN","w":616,"i":64},{"s":"FeN","w":620.8,"i":57},{"s":"FeN","w":625.2,"i":59},{"s":"FeN","w":629.6,"i":56},{"s":"FeN","w":634.2,"i":64},{"s":"FeN","w":638.5,"i":62},{"s":"FeN","w":643,"i":61},{"s":"FeN","w":647.8,"i":68},{"s":"FeN","w":652.2,"i":66},{"s":"FeN","w":656,"i":72},{"s":"FeN","w":660.5,"i":59},{"s":"FeN","w":665.5,"i":65},{"s":"FeN","w":670,"i":68},{"s":"FeN","w":674.7,"i":61},{"s":"FeN","w":679.2,"i":65},{"s":"FeN","w":683.5,"i":60},{"s":"FeN","w":688,"i":66},{"s":"FeN","w":692.6,"i":70},{"s":"FeN","w":696,"i":63},{"s":"FeN","w":698.6,"i":66}
]},
"mark": {"type": "line", "color": "black", "strokeWidth": 1.5, "clip": false},
"encoding": {
"x": {"field": "w", "type": "quantitative", "title": "Wavelength (nm)",
 "scale": {"domain": [300, 700], "nice": false, "zero": false},
 "axis": {"values": [300,325,350,375,400,425,450,475,500,525,550,575,600,625,650,675,700],
  "labelExpr": "datum.value % 50 === 0 ? datum.label : ''",
  "tickSize": {"condition": {"test": "datum.value % 50 === 0", "value": 7}, "value": 4},
  "labelOverlap": false, "labelFlush": false, "labelFontSize": 20.5, "labelPadding": 6.5, "labelColor": "black",
  "tickColor": "black", "tickWidth": 1.5, "domainColor": "black", "domainWidth": 1.5, "grid": false,
  "titleFontSize": 20.5, "titleFontWeight": "normal", "titleColor": "black", "titleY": 40, "titleBaseline": "top"}},
"y": {"field": "i", "type": "quantitative", "title": "PL intensity (a.u.)",
 "scale": {"domain": [0, 575], "nice": false, "zero": false},
 "axis": {"domain": false, "ticks": false, "labels": false, "grid": false,
  "titleFontSize": 20.5, "titleFontWeight": "normal", "titleColor": "black",
  "titleX": -16, "titleY": 347, "titleBaseline": "alphabetic", "titleAngle": -90, "titleAlign": "center"}},
"detail": {"field": "s"}
}
},
{
"data": {"values": [
{"label": "Pure SnO₂/AC", "w": 667.6, "i": 299},
{"label": "Fe/S/SnO₂/AC", "w": 667.6, "i": 237},
{"label": "Zn/N/SnO₂/AC", "w": 664.5, "i": 186},
{"label": "V/N/SnO₂/AC", "w": 663.8, "i": 123},
{"label": "Fe/N/SnO₂/AC", "w": 660, "i": 75}
]},
"mark": {"type": "text", "align": "right", "baseline": "alphabetic", "fontSize": 20, "color": "black", "font": "Liberation Sans"},
"encoding": {
"x": {"field": "w", "type": "quantitative", "title": "Wavelength (nm)"},
"y": {"field": "i", "type": "quantitative", "title": "PL intensity (a.u.)"},
"text": {"field": "label"}
}
}
]
}
